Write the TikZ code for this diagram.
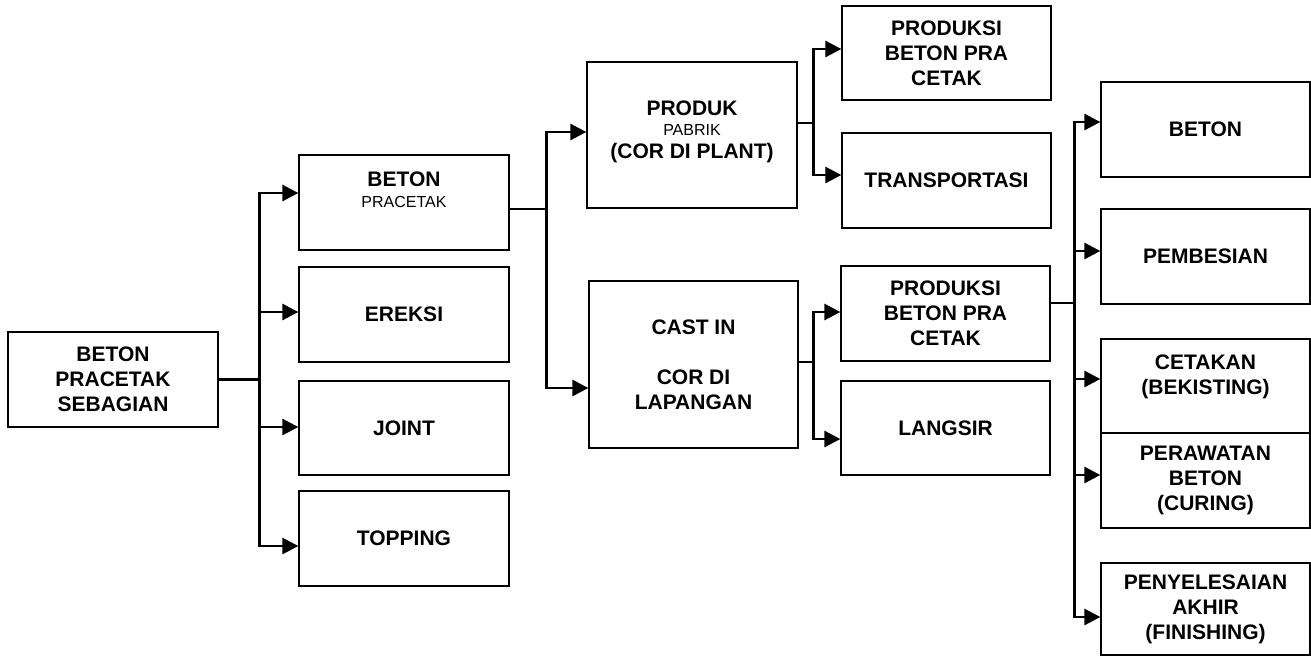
\documentclass[tikz,border=0pt]{standalone}
\usepackage{fontspec}
\setmainfont{Liberation Sans}
\usetikzlibrary{arrows.meta}
\newcommand\smallf{\mdseries\fontsize{16}{19}\selectfont}
\begin{document}
\begin{tikzpicture}[x=1pt,y=-1pt,
  box/.style={draw, line width=1.3pt, minimum width=210pt, minimum height=95pt, inner sep=0pt,
    align=center, font=\bfseries\fontsize{21}{25}\selectfont},
  txt/.style={align=center, inner sep=0pt, font=\bfseries\fontsize{21}{25}\selectfont},
  conn/.style={line width=2.7pt},
  arr/.style={conn, -{Triangle[length=16pt,width=16pt]}}]
\useasboundingbox (0,0) rectangle (1311,657);

% boxes
\node[box] (root) at (113,379.5) {BETON\\PRACETAK\\SEBAGIAN};
\node[box] (b1) at (404,202.5) {};
\node[txt] (b1t) at (404,190) {BETON\\[-4pt]{\smallf PRACETAK}};
\node[box] (ereksi) at (404,314.5) {EREKSI};
\node[box, minimum height=94pt] (joint) at (404,428) {JOINT};
\node[box] (topping) at (404,538.5) {TOPPING};

\node[box, minimum height=146pt] (produk) at (692,135) {};
\node[txt] (produkt) at (692,132) {PRODUK\\[-5pt]{\smallf PABRIK}\\[-2pt](COR DI PLANT)};
\node[box, minimum width=209pt, minimum height=167pt] (cast) at (693.5,364.5) {CAST IN\\ \\COR DI\\LAPANGAN};

\node[box, minimum width=209pt, minimum height=94pt] (ps1) at (946.5,53) {PRODUKSI\\BETON PRA\\CETAK};
\node[box, minimum width=209pt] (trans) at (946.5,180.5) {TRANSPORTASI};
\node[box, minimum width=209pt] (ps2) at (945.5,313.5) {PRODUKSI\\BETON PRA\\CETAK};
\node[box, minimum width=209pt, minimum height=94pt] (langsir) at (945.5,428) {LANGSIR};

\node[box, minimum width=209pt] (rb) at (1205.5,129.5) {BETON};
\node[box, minimum width=209pt] (pemb) at (1205.5,256.5) {PEMBESIAN};
\node[box, minimum width=209pt, minimum height=94pt] (cetak) at (1205.5,386) {};
\node[txt] (cetakt) at (1205.5,376.5) {CETAKAN\\(BEKISTING)};
\node[box, minimum width=209pt] (peraw) at (1205.5,480.5) {PERAWATAN\\BETON\\(CURING)};
\node[box, minimum width=209pt, minimum height=92pt] (peny) at (1205.5,609) {PENYELESAIAN\\AKHIR\\(FINISHING)};

% connectors
\draw[conn] (root.east) -- ++(41,0) coordinate (j1);
\draw[arr] (j1) |- ([yshift=9.5pt]b1.west);
\draw[arr] (j1) |- ([yshift=2.5pt]ereksi.west);
\draw[arr] (j1) |- ([yshift=1pt]joint.west);
\draw[arr] (j1) |- ([yshift=-7.5pt]topping.west);

\draw[conn] ([yshift=-6.5pt]b1.east) -- ++(37,0) coordinate (j2);
\draw[arr] (j2) |- ([yshift=3pt]produk.west);
\draw[arr] (j2) |- ([yshift=-23.5pt]cast.west);

\draw[conn] ([yshift=12pt]produk.east) -- ++(16,0) coordinate (j3);
\draw[arr] (j3) |- ([yshift=4pt]ps1.west);
\draw[arr] (j3) |- ([yshift=5.5pt]trans.west);

\draw[conn] ([yshift=2.5pt]cast.east) -- ++(15,0) coordinate (j4);
\draw[arr] (j4) |- ([yshift=1.5pt]ps2.west);
\draw[arr] (j4) |- ([yshift=-11pt]langsir.west);

\draw[conn] ([yshift=10.5pt]ps2.east) -- ++(24,0) coordinate (j5);
\draw[arr] (j5) |- ([yshift=7.5pt]rb.west);
\draw[arr] (j5) |- ([yshift=5.5pt]pemb.west);
\draw[arr] (j5) |- ([yshift=7pt]cetak.west);
\draw[arr] (j5) |- ([yshift=5.5pt]peraw.west);
\draw[arr] (j5) |- ([yshift=-8pt]peny.west);
\end{tikzpicture}
\end{document}
